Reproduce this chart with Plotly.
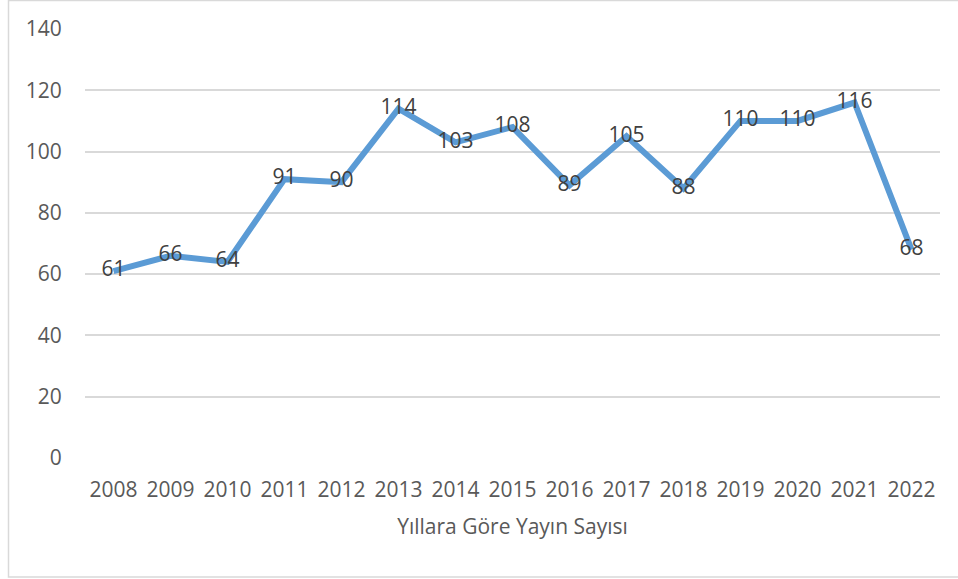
import plotly.graph_objects as go

years = ["2008", "2009", "2010", "2011", "2012", "2013", "2014", "2015",
         "2016", "2017", "2018", "2019", "2020", "2021", "2022"]
counts = [61, 66, 64, 91, 90, 114, 103, 108, 89, 105, 88, 110, 110, 116, 68]
y_ticks = [0, 20, 40, 60, 80, 100, 120, 140]
x_title = "Yıllara Göre Yayın Sayısı"

W, H = 958, 579
L, R, T, B = 85, 18, 29, 121
pw, ph = W - L - R, H - T - B

FONT = "Open Sans"
FS = 21

fig = go.Figure()
fig.add_trace(go.Scatter(
    x=years, y=counts, mode="lines+text",
    line=dict(color="#5B9BD5", width=6),
    text=[str(v) for v in counts], textposition="middle center",
    textfont=dict(family=FONT, size=FS, color="#404040"),
    cliponaxis=False, hoverinfo="skip",
))

def px_x(p):
    return (p - L) / pw

def px_y(p):
    return (H - B - p) / ph

fig.update_layout(
    width=W, height=H,
    margin=dict(l=L, r=R, t=T, b=B),
    paper_bgcolor="white", plot_bgcolor="white",
    showlegend=False,
    font=dict(family=FONT, size=FS, color="#595959"),
    xaxis=dict(
        type="category", showgrid=False, zeroline=False, showline=False,
        ticks="outside", ticklen=13, tickcolor="rgba(0,0,0,0)",
        tickfont=dict(family=FONT, size=FS, color="#595959"),
        title=dict(text=x_title, standoff=17,
                   font=dict(family=FONT, size=FS, color="#595959")),
        range=[-0.5, len(years) - 0.5],
    ),
    yaxis=dict(
        range=[0, 140], tickvals=y_ticks, showgrid=True,
        gridcolor="#D9D9D9", gridwidth=1.5, zeroline=False, showline=False,
        ticks="outside", ticklen=18, tickcolor="rgba(0,0,0,0)",
        tickfont=dict(family=FONT, size=FS, color="#595959"),
    ),
    shapes=[dict(
        type="rect", xref="paper", yref="paper",
        x0=px_x(8.5), x1=px_x(962), y0=px_y(577), y1=px_y(0.5),
        line=dict(color="#D9D9D9", width=1.5), layer="below",
    )],
)

fig.write_html(
    "out.html",
    config={"displayModeBar": False},
    post_script="document.body.style.margin='0';document.body.style.padding='0';",
)
